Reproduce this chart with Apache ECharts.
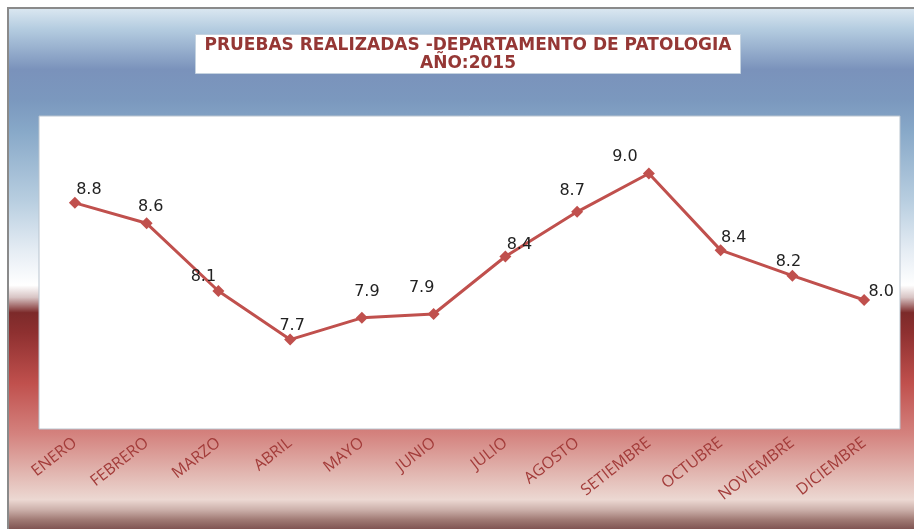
<!DOCTYPE html>
<html>
<head>
<meta charset="utf-8">
<script src="https://cdn.jsdelivr.net/npm/echarts@6/dist/echarts.min.js"></script>
<style>
  html, body { margin: 0; padding: 0; background: #fff; }
  #main { width: 914px; height: 529px; }
</style>
</head>
<body>
<div id="main"></div>
<script>
const months = ["ENERO", "FEBRERO", "MARZO", "ABRIL", "MAYO", "JUNIO",
  "JULIO", "AGOSTO", "SETIEMBRE", "OCTUBRE", "NOVIEMBRE", "DICIEMBRE"];
const pruebas = [8.77, 8.61, 8.08, 7.7, 7.87, 7.9, 8.35, 8.7, 9.0, 8.4, 8.2, 8.01];

// where each data label sits relative to its marker (hand placed in the original)
const labelShift = [[14, -17], [4, -20], [-15, -18], [2, -18], [5, -30], [-12, -30],
  [14, -16], [-5, -25], [-24, -21], [13, -16], [-4, -18], [17, -12]];

const chartDom = document.getElementById("main");
const myChart = echarts.init(chartDom, null, { renderer: "canvas" });

const bg = new echarts.graphic.LinearGradient(0, 0, 0, 1, [
  { offset: 0, color: "#dde9f2" },
  { offset: 0.042, color: "#b4cce0" },
  { offset: 0.119, color: "#7a92bb" },
  { offset: 0.177, color: "#7b98be" },
  { offset: 0.234, color: "#87a8c8" },
  { offset: 0.368, color: "#b8cee0" },
  { offset: 0.464, color: "#e6edf4" },
  { offset: 0.528, color: "#ffffff" },
  { offset: 0.551, color: "#d8c4c4" },
  { offset: 0.58, color: "#7c2a2a" },
  { offset: 0.618, color: "#8e3030" },
  { offset: 0.714, color: "#c0504d" },
  { offset: 0.81, color: "#d4827e" },
  { offset: 0.887, color: "#e2b8b2" },
  { offset: 0.935, color: "#ecd8d2" },
  { offset: 0.954, color: "#ccb0aa" },
  { offset: 0.973, color: "#a07a74" },
  { offset: 1, color: "#6e4040" },
]);

const option = {
  animation: false,
  title: {
    text: "PRUEBAS REALIZADAS -DEPARTAMENTO DE PATOLOGIA\nAÑO:2015",
    left: 468,
    top: 37,
    padding: 0,
    textAlign: "center",
    textStyle: {
      fontFamily: "DejaVu Sans",
      fontSize: 17,
      fontWeight: "bold",
      lineHeight: 18,
      color: "#953735",
    },
  },
  graphic: [
    {
      type: "rect",
      z: -10,
      silent: true,
      shape: { x: 8, y: 8, width: 910, height: 525 },
      style: { fill: bg, stroke: "#8a8a8a", lineWidth: 2 },
    },
    {
      type: "rect",
      z: -5,
      silent: true,
      shape: { x: 195.5, y: 34.5, width: 545, height: 39 },
      style: { fill: "#ffffff", stroke: "#c5d3e0", lineWidth: 1 },
    },
  ],
  grid: {
    left: 39,
    right: 14,
    top: 116,
    bottom: 100,
    show: true,
    backgroundColor: "#ffffff",
    borderColor: "#b9c4cf",
    borderWidth: 1,
  },
  xAxis: {
    type: "category",
    data: months,
    boundaryGap: true,
    axisLine: { show: false },
    axisTick: { show: false },
    axisLabel: {
      rotate: 38,
      margin: 12,
      interval: 0,
      fontFamily: "Open Sans",
      fontSize: 16,
      color: "#a33c3a",
    },
  },
  yAxis: {
    type: "value",
    show: false,
    min: 7,
    max: 9.45,
    splitLine: { show: false },
  },
  series: [
    {
      type: "line",
      data: pruebas.map((v, i) => ({
        value: v,
        label: { offset: [labelShift[i][0], labelShift[i][1] + 18] },
      })),
      symbol: "diamond",
      symbolSize: 12,
      itemStyle: { color: "#c0504d" },
      lineStyle: { color: "#c0504d", width: 3 },
      label: {
        show: true,
        position: "top",
        distance: 0,
        fontFamily: "DejaVu Sans",
        fontSize: 16,
        color: "#222222",
        formatter: (p) => (Math.round(p.value * 10) / 10).toFixed(1),
      },
    },
  ],
};
myChart.setOption(option);
</script>
</body>
</html>
